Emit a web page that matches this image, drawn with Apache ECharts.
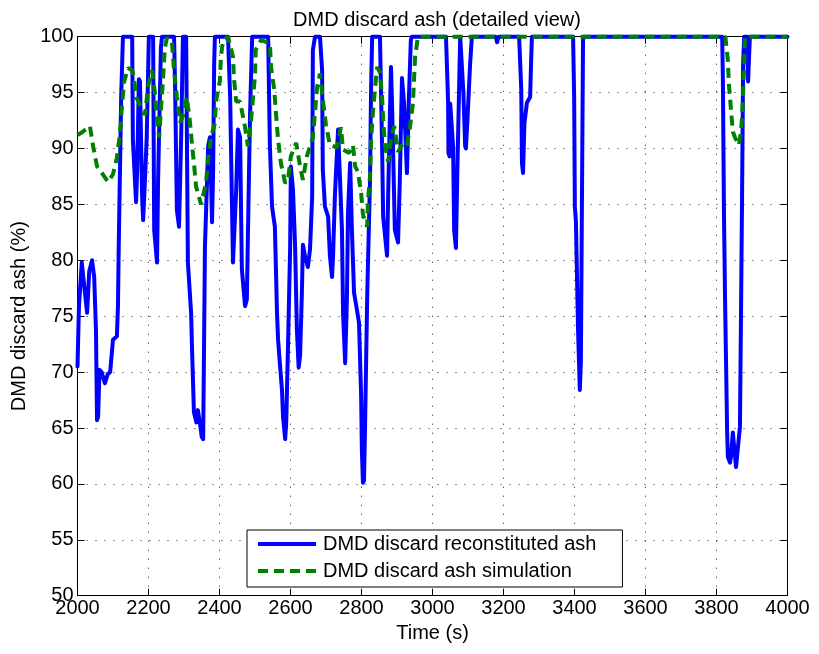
<!DOCTYPE html>
<html>
<head>
<meta charset="utf-8">
<script src="https://cdn.jsdelivr.net/npm/echarts@6/dist/echarts.min.js"></script>
<style>
html,body{margin:0;padding:0;background:#fff;}
#chart{width:819px;height:654px;}
</style>
</head>
<body>
<div id="chart"></div>
<script>
// ---- data ----
var blueTime = [2000,2004,2012,2018,2027,2033,2041,2047,2052,2055,2058,2062,2068,2077,2085,2092,2100,2111,2114,2116,2123,2128,
2154,2156,2165,2168,2173,2176,2182,2185,2190,2195,2201,2213,2216,2224,2227,2235,2238,
2272,2275,2280,2286,2292,2297,2306,2311,2320,2323,2328,2335,2339,2345,2350,2354,2356,2359,2368,2373,2379,2382,2385,2387,
2424,2430,2435,2438,2447,2452,2458,2463,2472,2477,2481,2486,2492,
2537,2542,2548,2556,2562,2565,2570,2576,2579,2585,2588,2593,2599,2601,2607,2613,2618,2623,2627,2632,2635,2640,2649,2655,2661,2663,2669,
2683,2689,2691,2697,2706,2711,2717,2720,2725,2734,2739,2745,2748,2754,2759,2762,2768,2773,2779,2787,2793,2799,2801,2804,2807,2810,2816,2824,2827,2830,
2852,2858,2861,2872,2875,2883,2886,2894,2903,2908,2914,2920,2928,2933,2939,2942,
3038,3044,3045,3048,3050,3054,3058,3061,3066,3070,3078,3083,3087,3092,3094,3098,3106,3111,
3178,3182,3186,3244,3250,3252,3255,3259,3261,3266,3275,3278,3280,
3396,3399,3401,3404,3410,3415,3418,3424,3426,
3816,3818,3821,3824,3830,3832,3838,3841,3846,3850,3855,3860,3866,3869,3872,3875,3878,3886,3889,3892,3894,4000];
var blueAsh = [70.5,75.8,79.8,78,75.3,79,80,78.5,73.8,65.7,66,70.2,70,69,69.8,70,72.9,73.2,75.9,81,94.6,100,
100,90.8,85.2,88,96.2,96,85.7,83.6,87.2,91,100,100,82.7,79.8,87.2,99,100,
100,95.3,84.5,83,91,100,100,79.8,75.3,71.7,66.4,65.5,66.6,65.4,64.2,64,70.8,81.2,90.2,91,83.4,88,97.6,100,
100,94.6,85.2,79.8,86.3,91.7,91,79.2,75.9,76.5,84,93,100,
100,90.2,84.8,83,75.3,72.9,70.8,68.4,66,64,65.5,72.3,81.2,88.4,86.3,81.2,73.8,70.4,71.5,77,81.4,80.5,79.4,81,85.7,98.8,100,
100,97,88.1,84.8,83.9,80.4,78.5,80.5,85.7,91.7,91.7,82.7,75.3,70.8,76.7,84.3,88.7,82.7,77.1,75.6,74.4,67.8,63.1,60.1,60.3,65.1,76.7,87.2,95.3,100,
100,90.2,83.9,80.4,85.7,97.3,94,82.7,81.6,87.2,96.3,94,87.8,94,99.7,100,
100,94.1,89.6,89.3,94,94,90.2,82.7,81.1,88,100,100,95,90.2,90,92.3,97.6,100,
100,99.5,100,100,95.3,88.7,87.8,92.3,92.8,94.1,94.6,98,100,
100,94.6,84.8,83.5,73.8,68.4,71,99.7,100,
100,96.2,84.3,76.7,64.6,62.4,61.9,62.5,64.6,64.6,61.5,61.5,65.1,75,85.7,97.6,100,100,96,96,100,100];

var greenTime = [2000,2015,2035,2044,2055,2069,2086,2100,2111,2120,2125,2131,2142,2154,2159,2165,2170,2182,2190,2199,2210,2218,2224,2230,2235,2241,2246,2252,
2266,2272,2280,2289,2297,2308,2317,2323,2328,2334,2348,2362,2368,2376,2387,2390,2401,2404,2410,2424,2438,2441,2447,2458,2472,2480,2489,2494,2500,2502,2517,
2542,2545,2554,2559,2565,2573,2585,2593,2601,2616,2627,2635,2646,2663,2669,2675,2683,2691,2700,2711,2731,2742,2748,2765,2776,2782,2790,2799,2804,2816,2818,
2824,2827,2832,2838,2844,2852,2858,2861,2866,2875,2883,2892,2903,2917,2928,2937,2945,2948,2951,2959,
3825,3830,3832,3835,3841,3846,3852,3863,3869,3872,3875,3878,3880,4000];
var greenAsh = [91.2,91.5,92,90.2,88.4,87.8,87,87.7,89.2,91.4,93.7,95.9,97.2,97,96.4,94.6,94.3,93.5,93,95.6,97,95,92.6,91,93.5,96.2,99,99.9,
99.5,97,94.6,92.3,92.9,94.6,92.3,90.2,88.7,86.6,85,86.9,89,91,92.3,94.2,96,98.2,99.7,100,98.2,96.2,94.2,94.2,91.9,90.2,92.6,94.4,96.5,98.8,99.7,
99.4,97.3,95.3,93.2,90.8,88.7,86.9,87.2,89.3,90.5,88.4,87.2,89.3,91,93.2,95.5,96.7,94.4,92.1,90.3,90.1,91.9,89.9,89.6,90.3,88.4,87.9,86,84.1,83,85.2,
87.5,90.8,93.2,95.3,97.3,96.8,94.6,92.6,90.3,88.8,90.8,92,89.7,90.5,90.3,92,94.1,96.2,98.2,100,
100,98.5,97.9,95.7,93.4,91.5,91,90.3,91.5,92.8,95,97.5,100,100];

var xTicks = {min: 2000, max: 4000, step: 200};
var yTicks = {min: 50, max: 100, step: 5};
var seriesNames = ['DMD discard reconstituted ash', 'DMD discard ash simulation'];

function zip(a, b) { return a.map(function (v, i) { return [v, b[i]]; }); }

var FONT = 'Liberation Sans';
var chart = echarts.init(document.getElementById('chart'));

var baseAxisLine = {show: true, lineStyle: {color: '#000', width: 1}};
var tickIn = {show: true, inside: true, length: 7, lineStyle: {color: '#000', width: 1}};
var dotted = {show: true, lineStyle: {color: '#222', width: 1, type: [1, 8]}};

chart.setOption({
  animation: false,
  backgroundColor: '#fff',
  title: {
    text: 'DMD discard ash (detailed view)',
    left: 432, top: 5, textAlign: 'center',
    textStyle: {fontFamily: FONT, fontSize: 20, fontWeight: 'normal', color: '#000'}
  },
  grid: {left: 77.5, right: 31.5, top: 36.7, bottom: 58.3, containLabel: false},
  legend: {
    orient: 'vertical', left: 247, top: 530,
    backgroundColor: '#fff', borderColor: '#000', borderWidth: 1,
    padding: [4, 26, 6, 11], itemGap: 7, itemWidth: 58, itemHeight: 20,
    textStyle: {fontFamily: FONT, fontSize: 20, color: '#000', padding: [0,0,0,2]},
    data: [
      {name: seriesNames[0], icon: 'path://M0,8 L58,8 L58,12 L0,12 Z'},
      {name: seriesNames[1], icon: 'path://M0,8 L10,8 L10,12 L0,12 Z M16,8 L26,8 L26,12 L16,12 Z M32,8 L42,8 L42,12 L32,12 Z M48,8 L58,8 L58,12 L48,12 Z'}
    ]
  },
  xAxis: [{
    type: 'value', min: xTicks.min, max: xTicks.max, interval: xTicks.step, position: 'bottom',
    name: 'Time (s)', nameLocation: 'middle', nameGap: 28,
    nameTextStyle: {fontFamily: FONT, fontSize: 20, color: '#000'},
    axisLine: baseAxisLine, axisTick: tickIn,
    axisLabel: {fontFamily: FONT, fontSize: 20, color: '#000', margin: 3,
      formatter: function (v) { return String(v); }},
    splitLine: dotted
  }, {
    type: 'value', min: xTicks.min, max: xTicks.max, interval: xTicks.step, position: 'top',
    axisLine: baseAxisLine, axisTick: tickIn, axisLabel: {show: false}, splitLine: {show: false}
  }],
  yAxis: [{
    type: 'value', min: yTicks.min, max: yTicks.max, interval: yTicks.step, position: 'left',
    name: 'DMD discard ash (%)', nameLocation: 'middle', nameGap: 48, nameRotate: 90,
    nameTextStyle: {fontFamily: FONT, fontSize: 20, color: '#000'},
    axisLine: baseAxisLine, axisTick: tickIn,
    axisLabel: {fontFamily: FONT, fontSize: 20, color: '#000', margin: 4,
      formatter: function (v) { return String(v); }},
    splitLine: dotted
  }, {
    type: 'value', min: yTicks.min, max: yTicks.max, interval: yTicks.step, position: 'right',
    axisLine: baseAxisLine, axisTick: tickIn, axisLabel: {show: false}, splitLine: {show: false}
  }],
  series: [{
    name: seriesNames[0], type: 'line', xAxisIndex: 0, yAxisIndex: 0,
    data: zip(blueTime, blueAsh), showSymbol: false, symbol: 'none', clip: false,
    itemStyle: {color: '#0000ff'},
    lineStyle: {color: '#0000ff', width: 4, join: 'round', cap: 'round'}, z: 3
  }, {
    name: seriesNames[1], type: 'line', xAxisIndex: 0, yAxisIndex: 0,
    data: zip(greenTime, greenAsh), showSymbol: false, symbol: 'none', clip: false,
    itemStyle: {color: '#008000'},
    lineStyle: {color: '#008000', width: 4, type: [10, 6]}, z: 4
  }]
});
</script>
</body>
</html>
